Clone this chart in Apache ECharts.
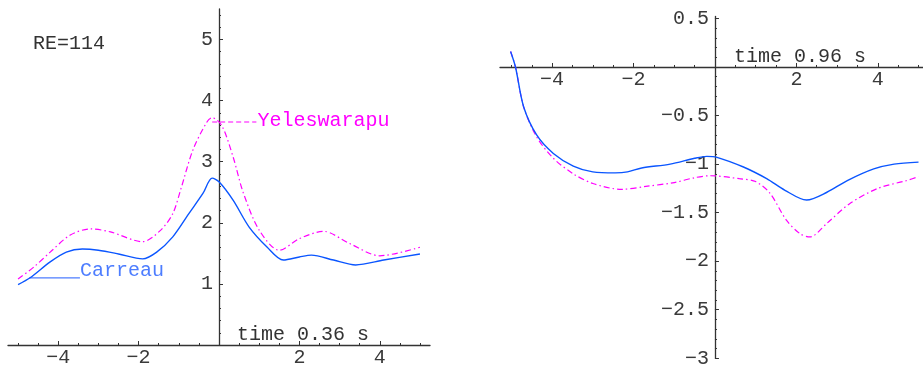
<!DOCTYPE html>
<html>
<head>
<meta charset="utf-8">
<script src="https://cdn.jsdelivr.net/npm/echarts@6/dist/echarts.min.js"></script>
<style>html,body{margin:0;padding:0;background:#fff}#c{width:923px;height:373px}</style>
</head>
<body>
<div id="c"></div>
<script>
// ---- data ----
const leftCarreauX = [-5.0,-4.7,-4.2,-3.8,-3.4,-3.0,-2.5,-1.9,-1.55,-1.15,-0.75,-0.4,-0.17,0.0,0.35,0.75,1.2,1.6,2.0,2.3,2.85,3.4,4.1,5.0];
const leftCarreauY = [0.99,1.10,1.36,1.52,1.57,1.55,1.49,1.41,1.52,1.77,2.15,2.48,2.73,2.67,2.37,1.93,1.60,1.39,1.44,1.47,1.39,1.31,1.39,1.49];
const leftYelesX = [-5.0,-4.6,-4.2,-3.7,-3.2,-2.7,-1.9,-1.45,-1.15,-0.95,-0.65,-0.3,-0.17,0.07,0.35,0.6,1.0,1.5,2.0,2.6,3.25,4.0,5.0];
const leftYelesY = [1.08,1.28,1.52,1.80,1.90,1.85,1.69,1.88,2.15,2.55,3.19,3.65,3.72,3.59,3.08,2.50,1.88,1.55,1.74,1.86,1.66,1.46,1.60];

const rightCarreauX = [-5.02,-4.9,-4.7,-4.38,-3.97,-3.48,-3.0,-2.45,-2.15,-1.8,-1.1,-0.5,-0.2,0.05,0.7,1.27,1.72,2.25,2.75,3.25,3.9,4.4,5.0];
const rightCarreauY = [0.16,0.0,-0.41,-0.70,-0.89,-1.02,-1.08,-1.09,-1.08,-1.04,-1.00,-0.94,-0.92,-0.93,-1.03,-1.15,-1.27,-1.37,-1.29,-1.17,-1.05,-1.00,-0.98];
const rightYelesX = [-5.02,-4.9,-4.7,-4.38,-3.97,-3.48,-3.0,-2.3,-1.7,-1.0,-0.5,-0.12,0.6,1.0,1.35,1.76,2.1,2.33,2.75,3.3,4.0,4.7,5.0];
const rightYelesY = [0.16,0.0,-0.41,-0.72,-0.94,-1.10,-1.20,-1.26,-1.23,-1.19,-1.14,-1.12,-1.15,-1.18,-1.30,-1.58,-1.72,-1.75,-1.61,-1.41,-1.25,-1.17,-1.13];

const xTickLabels = [-4,-2,2,4];
const leftYTickLabels = [1,2,3,4,5];
const rightYTickLabels = [0.5,-0.5,-1,-1.5,-2,-2.5,-3];

const carreauLeaderX = [-4.72,-3.46]; const carreauLeaderY = 1.10;
const yelesLeaderX = [-0.17,0.93]; const yelesLeaderY = 3.65;

const texts = {re:'RE=114', leftTime:'time 0.36 s', rightTime:'time 0.96 s', carreau:'Carreau', yeles:'Yeleswarapu'};

// ---- layout ----
const G = [
  {left:8, width:422, top:8.9, height:336.1, xmin:-5.25, xmax:5.25, ymin:0, ymax:5.5},
  {left:500, width:423, top:16.5, height:341.8, xmin:-5.28, xmax:5.11, ymin:-3, ymax:0.52}
];
// offsets that put each axis on the other axis' zero
G.forEach(g=>{
  g.yOff = -((0 - g.xmin)/(g.xmax - g.xmin))*g.width;
  g.xOff = -((0 - g.ymin)/(g.ymax - g.ymin))*g.height;
});

// ---- helpers ----
function pairs(xs, ys){ return xs.map((x,i)=>[x, ys[i]]); }
function range(a,b,s){ const r=[]; const n=Math.round((b-a)/s); for(let i=0;i<=n;i++) r.push(Math.round((a+i*s)*100)/100); return r; }
const FONT = 'Liberation Mono';
const fmt = v => String(v).replace('-', '\u2212');
const AX = '#333';

function mainAxis(grid, min, max, labels, pos, off){
  return {type:'value', gridIndex:grid, min, max, position:pos, offset:off,
    axisLine:{show:true, onZero:false, lineStyle:{color:AX, width:1.3}},
    axisTick:{show:true, inside:true, length:4, customValues:labels, lineStyle:{color:AX,width:1}},
    axisLabel:{show:true, customValues:labels, formatter:fmt, color:'#3a3a3a', fontFamily:FONT, fontSize:20, margin: pos==='bottom'?3:6},
    splitLine:{show:false}};
}
function minorAxis(grid, min, max, ticks, pos, off){
  return {type:'value', gridIndex:grid, min, max, position:pos, offset:off,
    axisLine:{show:false, onZero:false},
    axisTick:{show:true, inside:true, length:2, customValues:ticks, lineStyle:{color:AX,width:1}},
    axisLabel:{show:false}, splitLine:{show:false}};
}

const BLUE = '#0a55ff', BLUE_LBL = '#4d7dff', MAG = '#ff00ff';
const dashDot = [6,3,1.5,3];

const chart = echarts.init(document.getElementById('c'), null, {renderer:'canvas'});
chart.setOption({
  animation:false,
  backgroundColor:'#fff',
  grid:G.map(g=>({left:g.left, width:g.width, top:g.top, height:g.height, containLabel:false, outerBoundsMode:'none'})),
  xAxis:[
    mainAxis(0,G[0].xmin,G[0].xmax,xTickLabels,'bottom',G[0].xOff),
    minorAxis(0,G[0].xmin,G[0].xmax,range(-5,5,0.5),'bottom',G[0].xOff),
    mainAxis(1,G[1].xmin,G[1].xmax,xTickLabels,'bottom',G[1].xOff),
    minorAxis(1,G[1].xmin,G[1].xmax,range(-5,5,0.5),'bottom',G[1].xOff)
  ],
  yAxis:[
    mainAxis(0,G[0].ymin,G[0].ymax,leftYTickLabels,'left',G[0].yOff),
    minorAxis(0,G[0].ymin,G[0].ymax,range(0.2,5.4,0.2),'left',G[0].yOff),
    mainAxis(1,G[1].ymin,G[1].ymax,rightYTickLabels,'left',G[1].yOff),
    minorAxis(1,G[1].ymin,G[1].ymax,range(-3,0.5,0.1),'left',G[1].yOff)
  ],
  graphic:[
    {type:'text', left:33, top:34, style:{text:texts.re, font:'20px "Liberation Mono"', fill:'#333'}},
    {type:'text', left:237, top:325, style:{text:texts.leftTime, font:'20px "Liberation Mono"', fill:'#333'}},
    {type:'text', left:734, top:47, style:{text:texts.rightTime, font:'20px "Liberation Mono"', fill:'#333'}}
  ],
  series:[
    {type:'line', xAxisIndex:0, yAxisIndex:0, data:pairs(leftYelesX,leftYelesY), showSymbol:false, smooth:0.3,
      lineStyle:{color:MAG, width:1.2, type:dashDot}, z:3},
    {type:'line', xAxisIndex:0, yAxisIndex:0, data:pairs(leftCarreauX,leftCarreauY), showSymbol:false, smooth:0.3,
      lineStyle:{color:BLUE, width:1.4}, z:4},
    {type:'line', xAxisIndex:2, yAxisIndex:2, data:pairs(rightYelesX,rightYelesY), showSymbol:false, smooth:0.3,
      lineStyle:{color:MAG, width:1.2, type:dashDot}, z:3},
    {type:'line', xAxisIndex:2, yAxisIndex:2, data:pairs(rightCarreauX,rightCarreauY), showSymbol:false, smooth:0.3,
      lineStyle:{color:BLUE, width:1.4}, z:4},
    // leader lines + labels
    {type:'line', xAxisIndex:0, yAxisIndex:0, data:carreauLeaderX.map(x=>[x,carreauLeaderY]), showSymbol:false,
      lineStyle:{color:BLUE_LBL, width:1.2},
      endLabel:{show:true, formatter:texts.carreau, color:BLUE_LBL, fontFamily:FONT, fontSize:20, distance:0, offset:[0,-7]}},
    {type:'line', xAxisIndex:0, yAxisIndex:0, data:yelesLeaderX.map(x=>[x,yelesLeaderY]), showSymbol:false,
      lineStyle:{color:MAG, width:1.1, type:[5,3]},
      endLabel:{show:true, formatter:texts.yeles, color:MAG, fontFamily:FONT, fontSize:20, distance:1, offset:[0,-1]}}
  ]
});
</script>
</body>
</html>
